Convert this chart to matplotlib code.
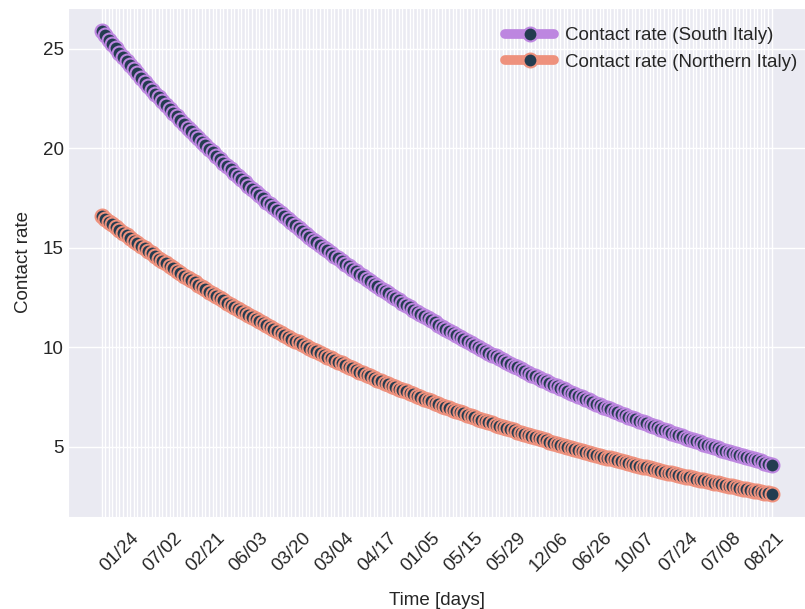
import matplotlib
matplotlib.use('Agg')
import matplotlib.pyplot as plt
import seaborn as sns

# contact rate per day, south and north
south_rate = [
    25.90, 25.68, 25.46, 25.24, 25.03, 24.81, 24.60, 24.39, 24.18, 23.97, 23.77, 23.56,
    23.36, 23.16, 22.96, 22.76, 22.57, 22.37, 22.18, 21.99, 21.80, 21.61, 21.42, 21.23,
    21.05, 20.87, 20.68, 20.50, 20.33, 20.15, 19.97, 19.80, 19.62, 19.45, 19.28, 19.11,
    18.94, 18.78, 18.61, 18.45, 18.29, 18.12, 17.96, 17.80, 17.65, 17.49, 17.33, 17.18,
    17.03, 16.88, 16.73, 16.58, 16.43, 16.28, 16.13, 15.99, 15.85, 15.70, 15.56, 15.42,
    15.28, 15.14, 15.01, 14.87, 14.74, 14.60, 14.47, 14.34, 14.21, 14.08, 13.95, 13.82,
    13.69, 13.57, 13.44, 13.32, 13.19, 13.07, 12.95, 12.83, 12.71, 12.59, 12.48, 12.36,
    12.25, 12.13, 12.02, 11.90, 11.79, 11.68, 11.57, 11.46, 11.35, 11.25, 11.14, 11.03,
    10.93, 10.82, 10.72, 10.62, 10.51, 10.41, 10.31, 10.21, 10.11, 10.02, 9.92, 9.82,
    9.73, 9.63, 9.54, 9.44, 9.35, 9.26, 9.17, 9.08, 8.99, 8.90, 8.81, 8.72,
    8.63, 8.55, 8.46, 8.38, 8.29, 8.21, 8.12, 8.04, 7.96, 7.88, 7.80, 7.72,
    7.64, 7.56, 7.48, 7.40, 7.33, 7.25, 7.17, 7.10, 7.02, 6.95, 6.88, 6.80,
    6.73, 6.66, 6.59, 6.52, 6.45, 6.38, 6.31, 6.24, 6.17, 6.11, 6.04, 5.97,
    5.91, 5.84, 5.78, 5.71, 5.65, 5.59, 5.52, 5.46, 5.40, 5.34, 5.28, 5.22,
    5.16, 5.10, 5.04, 4.98, 4.92, 4.86, 4.81, 4.75, 4.69, 4.64, 4.58, 4.53,
    4.47, 4.42, 4.36, 4.31, 4.26, 4.20, 4.15, 4.10,
]
north_rate = [
    16.60, 16.46, 16.32, 16.18, 16.04, 15.90, 15.77, 15.63, 15.50, 15.37, 15.23, 15.10,
    14.97, 14.84, 14.72, 14.59, 14.46, 14.34, 14.22, 14.09, 13.97, 13.85, 13.73, 13.61,
    13.49, 13.37, 13.26, 13.14, 13.03, 12.91, 12.80, 12.69, 12.58, 12.47, 12.36, 12.25,
    12.14, 12.04, 11.93, 11.82, 11.72, 11.62, 11.51, 11.41, 11.31, 11.21, 11.11, 11.01,
    10.91, 10.82, 10.72, 10.62, 10.53, 10.44, 10.34, 10.25, 10.16, 10.07, 9.97, 9.88,
    9.80, 9.71, 9.62, 9.53, 9.45, 9.36, 9.27, 9.19, 9.11, 9.02, 8.94, 8.86,
    8.78, 8.70, 8.62, 8.54, 8.46, 8.38, 8.30, 8.23, 8.15, 8.07, 8.00, 7.92,
    7.85, 7.78, 7.70, 7.63, 7.56, 7.49, 7.42, 7.35, 7.28, 7.21, 7.14, 7.07,
    7.00, 6.94, 6.87, 6.81, 6.74, 6.68, 6.61, 6.55, 6.48, 6.42, 6.36, 6.30,
    6.24, 6.17, 6.11, 6.05, 5.99, 5.94, 5.88, 5.82, 5.76, 5.70, 5.65, 5.59,
    5.54, 5.48, 5.42, 5.37, 5.32, 5.26, 5.21, 5.16, 5.10, 5.05, 5.00, 4.95,
    4.90, 4.85, 4.80, 4.75, 4.70, 4.65, 4.60, 4.55, 4.50, 4.46, 4.41, 4.36,
    4.32, 4.27, 4.22, 4.18, 4.13, 4.09, 4.05, 4.00, 3.96, 3.92, 3.87, 3.83,
    3.79, 3.75, 3.70, 3.66, 3.62, 3.58, 3.54, 3.50, 3.46, 3.42, 3.38, 3.34,
    3.31, 3.27, 3.23, 3.19, 3.16, 3.12, 3.08, 3.05, 3.01, 2.97, 2.94, 2.90,
    2.87, 2.83, 2.80, 2.76, 2.73, 2.70, 2.66, 2.63,
]

# only every 12th date gets a label, starting at day 5
date_labels = ['01/24', '07/02', '02/21', '06/03', '03/20', '03/04', '04/17', '01/05',
               '05/15', '05/29', '12/06', '06/26', '10/07', '07/24', '07/08', '08/21']
label_start = 5
label_step = 12

sns.set_style('darkgrid')
plt.rcParams['font.family'] = ['Liberation Sans', 'DejaVu Sans']
plt.rcParams['font.size'] = 13.5

days = list(range(len(south_rate)))

fig = plt.figure(figsize=(8.05, 6.09), dpi=100)
ax = fig.add_axes([0.0845, 0.151, 0.9155, 0.836])

ax.plot(days, south_rate, '-o', color='#bd86e0', lw=7, ms=10,
        markerfacecolor='#233c50', markeredgecolor='#bd86e0', markeredgewidth=1.5,
        label='Contact rate (South Italy)')
ax.plot(days, north_rate, '-o', color='#ee917d', lw=7, ms=10,
        markerfacecolor='#233c50', markeredgecolor='#ee917d', markeredgewidth=1.5,
        label='Contact rate (Northern Italy)')

# a white grid line for every day, labels only on some of them
ax.set_xticks(days, minor=True)
ax.set_xticks(days[label_start::label_step])
ax.set_xticklabels(date_labels, rotation=45)
ax.grid(True, which='both', color='white', lw=1.0)
ax.tick_params(which='both', length=0)
ax.tick_params(axis='x', pad=9)
ax.tick_params(axis='y', pad=3)

ax.set_xlabel('Time [days]', labelpad=12)
ax.set_ylabel('Contact rate', labelpad=8)
ax.legend(loc='upper right', bbox_to_anchor=(1.0, 0.977), frameon=False,
          fontsize=13.5, handlelength=2.6, handletextpad=0.6, borderaxespad=0)

fig.savefig('out.png', dpi=100)
